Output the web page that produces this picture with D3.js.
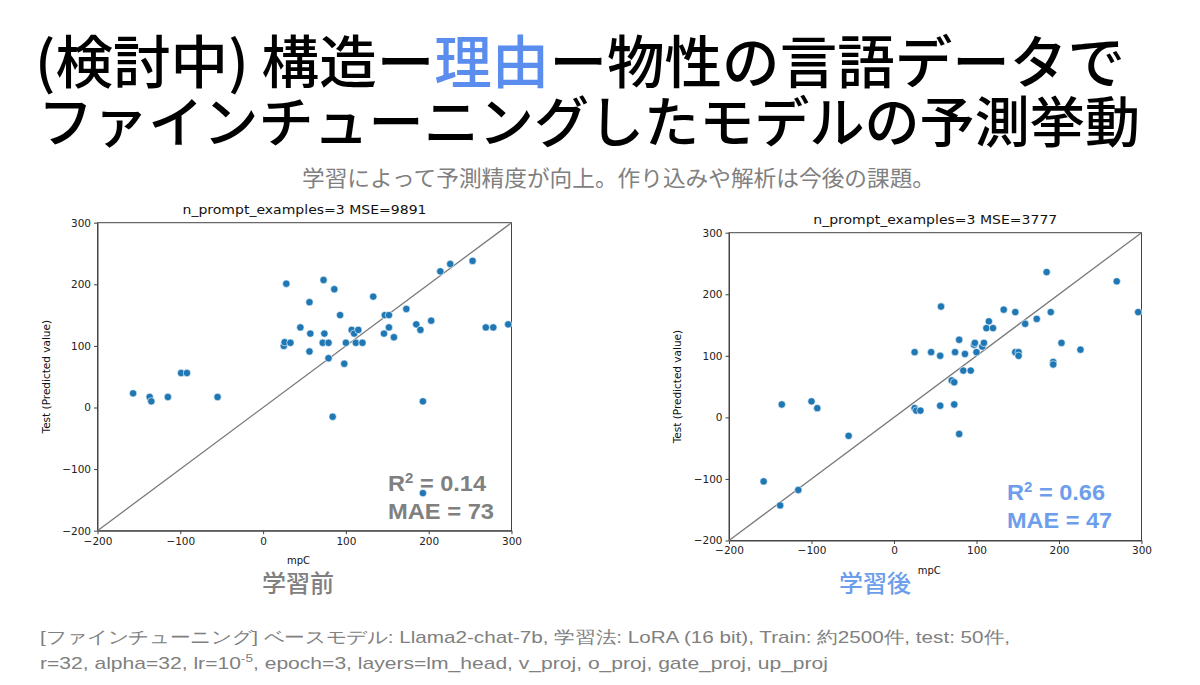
<!DOCTYPE html>
<html lang="ja">
  <head>
    <meta charset="UTF-8" />
    <title>構造ー理由ー物性 ファインチューニング予測挙動</title>
    <script src="https://d3js.org/d3.v7.min.js"></script>
    <style>
      body {
        margin: 0;
        background: #fff;
      }
      svg {
        display: block;
      }
      .tick text {
        font: 10.5px "DejaVu Sans", sans-serif;
        fill: #222;
      }
      .tick line,
      .domain {
        stroke: #444;
      }
    </style>
  </head>
  <body>
    <svg width="1200" height="685"></svg>

    <script>
      // 目盛り
      const xTicks = [-200, -100, 0, 100, 200, 300];
      const yTicks = [-200, -100, 0, 100, 200, 300];

      // 学習前 (mpC, 予測値)
      const beforeX = [-157, -137, -135, -115, -99, -92, -55, 28, 25, 26, 33, 45, 56, 57, 56,
        73, 86, 74, 72, 79, 79, 84, 93, 100, 98, 107, 110, 115, 112, 120, 133, 147, 152,
        146, 152, 158, 173, 185, 190, 203, 193, 193, 214, 226, 253, 269, 278, 296];
      const beforeY = [23, 17, 10, 17, 56, 56, 17, 201, 100, 106, 105, 130, 171, 120, 91,
        207, 192, 120, 105, 105, 80, -15, 150, 105, 71, 126, 120, 126, 105, 105, 180, 150, 150,
        120, 130, 114, 160, 135, 126, 141, 10, -139, 221, 233, 238, 130, 130, 135];

      // 学習後 (mpC, 予測値)
      const afterX = [-158, -138, -116, -136, -100, -93, -55, 25, 25, 27, 32, 45, 56, 57, 56,
        70, 73, 73, 74, 79, 79, 84, 86, 93, 97, 98, 100, 107, 109, 112, 115, 120, 133, 147,
        147, 151, 151, 159, 173, 185, 190, 193, 193, 203, 226, 270, 296];
      const afterY = [-104, -143, -118, 21, 26, 15, -30, 106, 15, 11, 11, 106, 100, 180, 19,
        60, 57, 21, 106, 126, -27, 76, 103, 76, 118, 121, 106, 115, 121, 145, 156, 145, 175, 171,
        106, 106, 100, 152, 160, 236, 171, 90, 86, 121, 110, 221, 171];

      const svg = d3.select("svg");
      const fmt = (d) => (d < 0 ? "\u2212" + Math.abs(d) : String(d));

      // 見出し
      const head = svg
        .append("g")
        .style("font-family", '"Noto Sans CJK JP", sans-serif')
        .style("font-weight", 500)
        .attr("fill", "#000");
      const h1 = head
        .append("text")
        .attr("x", 35)
        .attr("y", 83)
        .attr("font-size", 57)
        .attr("textLength", 1090)
        .attr("lengthAdjust", "spacingAndGlyphs");
      h1.append("tspan").text("(検討中) 構造ー");
      h1.append("tspan").attr("fill", "#5b8def").text("理由");
      h1.append("tspan").text("ー物性の言語データで");
      head
        .append("text")
        .attr("x", 38)
        .attr("y", 142)
        .attr("font-size", 55)
        .attr("textLength", 1102)
        .attr("lengthAdjust", "spacingAndGlyphs")
        .text("ファインチューニングしたモデルの予測挙動");

      svg
        .append("text")
        .attr("x", 302)
        .attr("y", 186)
        .attr("font-size", 22)
        .attr("textLength", 633)
        .attr("lengthAdjust", "spacingAndGlyphs")
        .style("font-family", '"Noto Sans CJK JP", sans-serif')
        .attr("fill", "#808080")
        .text("学習によって予測精度が向上。作り込みや解析は今後の課題。");

      // 散布図パネル
      function drawPanel(p) {
        const x = d3.scaleLinear().domain([-200, 300]).range([p.left, p.right]);
        const y = d3.scaleLinear().domain([-200, 300]).range([p.bottom, p.top]);
        const g = svg.append("g");

        g.append("rect")
          .attr("x", p.left)
          .attr("y", p.top)
          .attr("width", p.right - p.left)
          .attr("height", p.bottom - p.top)
          .attr("fill", "none")
          .attr("stroke", "#444");

        g.append("g")
          .attr("transform", `translate(0,${p.bottom})`)
          .call(d3.axisBottom(x).tickValues(xTicks).tickFormat(fmt).tickSize(3.5).tickSizeOuter(0).tickPadding(3));
        g.append("g")
          .attr("transform", `translate(${p.left},0)`)
          .call(d3.axisLeft(y).tickValues(yTicks).tickFormat(fmt).tickSize(3.5).tickSizeOuter(0).tickPadding(3));

        // 対角線 y = x
        g.append("line")
          .attr("x1", x(-200))
          .attr("y1", y(-200))
          .attr("x2", x(300))
          .attr("y2", y(300))
          .attr("stroke", "#7a7a7a")
          .attr("stroke-width", 1.3);

        g.selectAll("circle")
          .data(d3.zip(p.xs, p.ys))
          .join("circle")
          .attr("cx", (d) => x(d[0]))
          .attr("cy", (d) => y(d[1]))
          .attr("r", 3.7)
          .attr("fill", "#1f77b4")
          .attr("stroke", "#fff")
          .attr("stroke-width", 0.6);

        const mid = (p.left + p.right) / 2;
        g.append("text")
          .attr("x", mid - 122)
          .attr("y", p.top - 9)
          .attr("textLength", 244)
          .attr("lengthAdjust", "spacingAndGlyphs")
          .style("font", '12.5px "DejaVu Sans", sans-serif')
          .attr("fill", "#111")
          .text(p.title);
        g.append("text")
          .attr("x", mid - 6)
          .attr("y", p.bottom + 33)
          .attr("text-anchor", "middle")
          .style("font", '10px "DejaVu Sans", sans-serif')
          .attr("fill", "#111")
          .text("mpC");
        g.append("text")
          .attr("transform", `translate(${p.left - 48},${(p.top + p.bottom) / 2}) rotate(-90)`)
          .attr("text-anchor", "middle")
          .style("font", '10.5px "DejaVu Sans", sans-serif')
          .attr("fill", "#111")
          .text("Test (Predicted value)");

        // 指標
        const stat = g
          .append("g")
          .style("font-family", '"Liberation Sans", Arial, sans-serif')
          .style("font-weight", "bold")
          .attr("font-size", 22)
          .attr("fill", p.color);
        const r2 = stat
          .append("text")
          .attr("x", p.statX)
          .attr("y", p.statY)
          .attr("textLength", 98)
          .attr("lengthAdjust", "spacingAndGlyphs");
        r2.append("tspan").text("R");
        r2.append("tspan").attr("font-size", 14).attr("dy", -8).text("2");
        r2.append("tspan").attr("dy", 8).text(" = " + p.r2);
        stat
          .append("text")
          .attr("x", p.statX)
          .attr("y", p.statY + 28)
          .attr("textLength", p.maeW)
          .attr("lengthAdjust", "spacingAndGlyphs")
          .text("MAE = " + p.mae);

        svg
          .append("text")
          .attr("x", p.capX)
          .attr("y", 592)
          .attr("text-anchor", "middle")
          .attr("font-size", 24)
          .style("font-family", '"Noto Sans CJK JP", sans-serif')
          .style("font-weight", 500)
          .attr("fill", p.color)
          .text(p.caption);
      }

      drawPanel({
        left: 97.5, right: 511.5, top: 222.7, bottom: 530.7,
        xs: beforeX, ys: beforeY,
        title: "n_prompt_examples=3 MSE=9891",
        r2: "0.14", mae: "73", color: "#808080",
        statX: 388, statY: 491, maeW: 106,
        caption: "学習前", capX: 298
      });
      drawPanel({
        left: 729, right: 1141.5, top: 232.7, bottom: 540.5,
        xs: afterX, ys: afterY,
        title: "n_prompt_examples=3 MSE=3777",
        r2: "0.66", mae: "47", color: "#6d9eeb",
        statX: 1007, statY: 500, maeW: 105,
        caption: "学習後", capX: 875
      });

      // 学習条件
      const note = svg
        .append("g")
        .style("font-family", '"Liberation Sans", Arial, sans-serif')
        .attr("font-size", 17)
        .attr("fill", "#808080");
      note
        .append("text")
        .attr("x", 40)
        .attr("y", 643)
        .attr("textLength", 970)
        .attr("lengthAdjust", "spacingAndGlyphs")
        .text("[ファインチューニング] ベースモデル: Llama2-chat-7b, 学習法: LoRA (16 bit), Train: 約2500件, test: 50件,");
      const n2 = note
        .append("text")
        .attr("x", 40)
        .attr("y", 669)
        .attr("textLength", 788)
        .attr("lengthAdjust", "spacingAndGlyphs");
      n2.append("tspan").text("r=32, alpha=32, lr=10");
      n2.append("tspan").attr("font-size", 11).attr("dy", -7).text("-5");
      n2.append("tspan").attr("dy", 7).text(", epoch=3, layers=lm_head,  v_proj, o_proj, gate_proj, up_proj");
    </script>
  </body>
</html>
